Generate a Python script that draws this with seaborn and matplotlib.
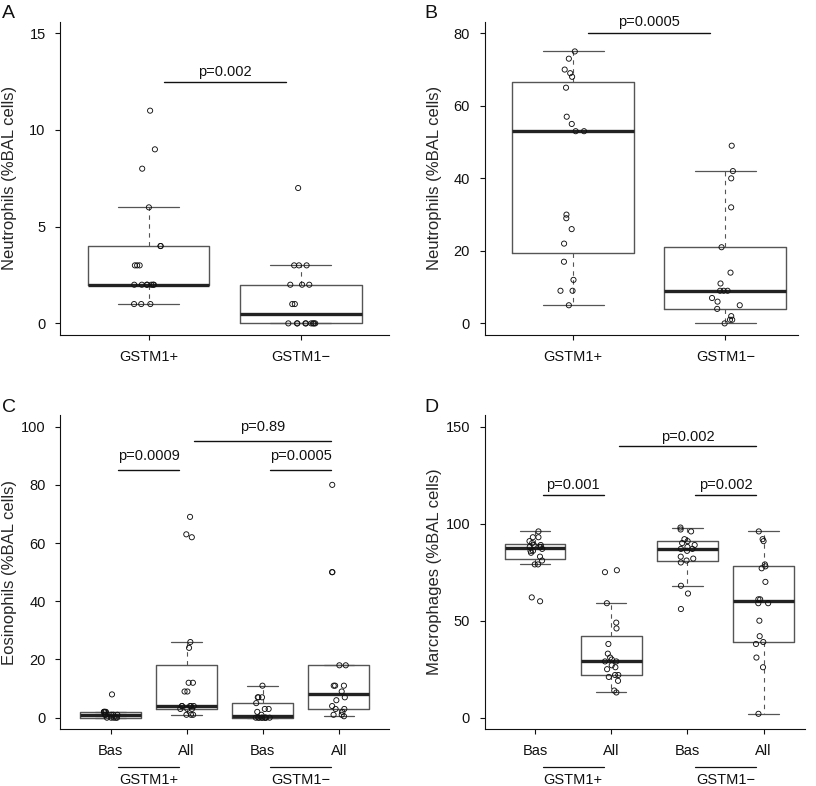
import numpy as np
import pandas as pd
import matplotlib
matplotlib.use("Agg")
import matplotlib.pyplot as plt
import seaborn as sns
from matplotlib.transforms import blended_transform_factory

sns.set_style("ticks")
plt.rcParams["font.family"] = ["Liberation Sans", "DejaVu Sans"]

# ----------------------------------------------------------
# DATA (% of BAL cells)
# ----------------------------------------------------------
MINUS = "\u2212"

# A - neutrophils, baseline
a_pos = [11, 9, 8, 6, 4, 4, 3, 3, 3, 2, 2, 2, 2, 2, 2, 2, 1, 1, 1]
a_neg = [7, 3, 3, 3, 2, 2, 2, 1, 1, 0, 0, 0, 0, 0, 0, 0, 0, 0]

# B - neutrophils, after exposure
b_pos = [75, 73, 70, 69, 68, 65, 57, 55, 53, 53, 30, 29, 26, 22, 17, 12, 9, 9, 5]
b_neg = [49, 42, 40, 32, 21, 14, 11, 9, 9, 9, 7, 6, 5, 4, 2, 1, 1, 0]

# C - eosinophils
c_bas_pos = [8, 2, 2, 2, 2, 2, 1, 1, 1, 1, 1, 0, 0, 0, 0, 0]
c_all_pos = [69, 63, 62, 26, 24, 12, 12, 9, 9, 4, 4, 4, 4, 4, 3, 3, 3, 1, 1, 1]
c_bas_neg = [11, 7, 7, 7, 5, 3, 3, 2, 1, 0, 0, 0, 0, 0, 0, 0, 0, 0]
c_all_neg = [80, 50, 50, 18, 18, 11, 11, 11, 9, 7, 6, 4, 3, 3, 2, 1, 1, 0.5]

# D - macrophages
d_bas_pos = [96, 93, 93, 91, 90, 89, 89, 88, 88, 88, 87, 86, 86, 85, 83, 81,
             79, 79, 62, 60]
d_all_pos = [76, 75, 59, 49, 46, 38, 33, 31, 30, 29, 29, 27, 26, 25, 22, 22,
             21, 19, 14, 13]
d_bas_neg = [98, 97, 96, 92, 91, 90, 89, 88, 87, 87, 86, 83, 82, 81, 80, 68,
             64, 56]
d_all_neg = [96, 92, 91, 79, 78, 77, 70, 61, 61, 59, 59, 50, 42, 39, 38, 31,
             26, 2]

two_groups = ["GSTM1+", "GSTM1" + MINUS]
four_groups = ["Bas", "All", "Bas", "All"]


def box_stats(vals):
    """R-style boxplot stats (Tukey hinges, 1.5 IQR whiskers)."""
    x = np.sort(np.asarray(vals, dtype=float))
    n = len(x)
    n4 = np.floor((n + 3) / 2) / 2
    d = np.array([1, n4, (n + 1) / 2, n + 1 - n4, n]) - 1
    q = 0.5 * (x[np.floor(d).astype(int)] + x[np.ceil(d).astype(int)])
    iqr = q[3] - q[1]
    lo = x[x >= q[1] - 1.5 * iqr].min()
    hi = x[x <= q[3] + 1.5 * iqr].max()
    return dict(med=q[2], q1=q[1], q3=q[3], whislo=lo, whishi=hi, fliers=[])


panels = [
    dict(letter="A", rect=[0.0739, 0.5738, 0.4028, 0.3986],
         series=[a_pos, a_neg], ticklabels=two_groups,
         xlim=(-0.58, 1.58), ylim=(-0.6, 15.6), yticks=[0, 5, 10, 15],
         ylabel="Neutrophils (%BAL cells)", labx=-0.131,
         brackets=[(0.1, 0.9, 12.5, 12.8, "p=0.002")]),
    dict(letter="B", rect=[0.5940, 0.5738, 0.3840, 0.3986],
         series=[b_pos, b_neg], ticklabels=two_groups,
         xlim=(-0.58, 1.477), ylim=(-3.2, 83.2), yticks=[0, 20, 40, 60, 80],
         ylabel="Neutrophils (%BAL cells)", labx=-0.137,
         brackets=[(0.1, 0.9, 80, 82.0, "p=0.0005")]),
    dict(letter="C", rect=[0.0739, 0.0721, 0.4028, 0.3999],
         series=[c_bas_pos, c_all_pos, c_bas_neg, c_all_neg],
         ticklabels=four_groups,
         xlim=(-0.66, 3.66), ylim=(-4, 104), yticks=[0, 20, 40, 60, 80, 100],
         ylabel="Eosinophils (%BAL cells)", labx=-0.131,
         brackets=[(0.1, 0.9, 85, 88.7, "p=0.0009"),
                   (2.1, 2.9, 85, 88.7, "p=0.0005"),
                   (1.1, 2.9, 95, 98.6, "p=0.89")]),
    dict(letter="D", rect=[0.5940, 0.0721, 0.3922, 0.3999],
         series=[d_bas_pos, d_all_pos, d_bas_neg, d_all_neg],
         ticklabels=four_groups,
         xlim=(-0.66, 3.54), ylim=(-6, 156), yticks=[0, 50, 100, 150],
         ylabel="Marcrophages (%BAL cells)", labx=-0.134,
         brackets=[(0.1, 0.9, 115, 117.8, "p=0.001"),
                   (2.1, 2.9, 115, 117.8, "p=0.002"),
                   (1.1, 2.9, 140, 142.8, "p=0.002")]),
]

fig = plt.figure(figsize=(8.16, 7.86), dpi=100)
np.random.seed(3)

for p in panels:
    ax = fig.add_axes(p["rect"])
    keys = [f"g{i}" for i in range(len(p["series"]))]
    df = pd.DataFrame({
        "group": np.concatenate([[k] * len(s) for k, s in zip(keys, p["series"])]),
        "value": np.concatenate([np.asarray(s, float) for s in p["series"]]),
    })

    # boxes, R style
    stats = [box_stats(s) for s in p["series"]]
    ax.bxp(stats, positions=range(len(stats)), widths=0.8, capwidths=0.4,
           showfliers=False, patch_artist=False,
           boxprops=dict(color="#555555", linewidth=1.0),
           medianprops=dict(color="#222222", linewidth=2.4, solid_capstyle="butt"),
           whiskerprops=dict(color="#555555", linewidth=0.8, linestyle=(0, (4, 4))),
           capprops=dict(color="#555555", linewidth=0.9))

    # jittered points
    sns.stripplot(data=df, x="group", y="value", order=keys, jitter=0.1,
                  size=3.7, color="white", edgecolor="black", linewidth=0.65,
                  ax=ax, zorder=3)
    for coll in ax.collections:
        coll.set_facecolor("none")
        coll.set_edgecolor("#111111")

    ax.set_xlim(*p["xlim"])
    ax.set_ylim(*p["ylim"])
    ax.set_yticks(p["yticks"])
    ax.set_xticks(range(len(keys)))
    ax.set_xticklabels(p["ticklabels"])
    ax.set_xlabel("")
    ax.set_ylabel(p["ylabel"], fontsize=12)
    ax.yaxis.set_label_coords(p["labx"], 0.5)
    ax.tick_params(direction="out", length=3.5, width=0.8, pad=7,
                   labelsize=10.5, colors="#111111")
    sns.despine(ax=ax)
    for side in ["left", "bottom"]:
        ax.spines[side].set_linewidth(0.8)
        ax.spines[side].set_color("#111111")

    # significance bars
    for x1, x2, yl, yt, txt in p["brackets"]:
        ax.plot([x1, x2], [yl, yl], color="#111111", lw=1.0, clip_on=False)
        ax.text((x1 + x2) / 2, yt, txt, ha="center", va="baseline",
                fontsize=10.5, color="#111111", clip_on=False)

    # genotype labels under the Bas/All ticks
    if len(keys) == 4:
        tr = blended_transform_factory(ax.transData, fig.transFigure)
        for x1, x2, lab in [(0.1, 0.9, "GSTM1+"), (2.1, 2.9, "GSTM1" + MINUS)]:
            ax.plot([x1, x2], [0.0245, 0.0245], color="#111111", lw=0.9,
                    transform=tr, clip_on=False)
            ax.text((x1 + x2) / 2, 0.003, lab, ha="center", va="baseline",
                    fontsize=10.5, transform=tr, color="#111111")

    # panel letter
    left, bottom, w, h = p["rect"]
    lx = 0.0025 if left < 0.3 else 0.5205
    ly = 0.9767 if bottom > 0.3 else 0.4762
    fig.text(lx, ly, p["letter"], fontsize=14, va="baseline", ha="left",
             color="#111111")

fig.savefig("out.png", dpi=100, facecolor="white")
